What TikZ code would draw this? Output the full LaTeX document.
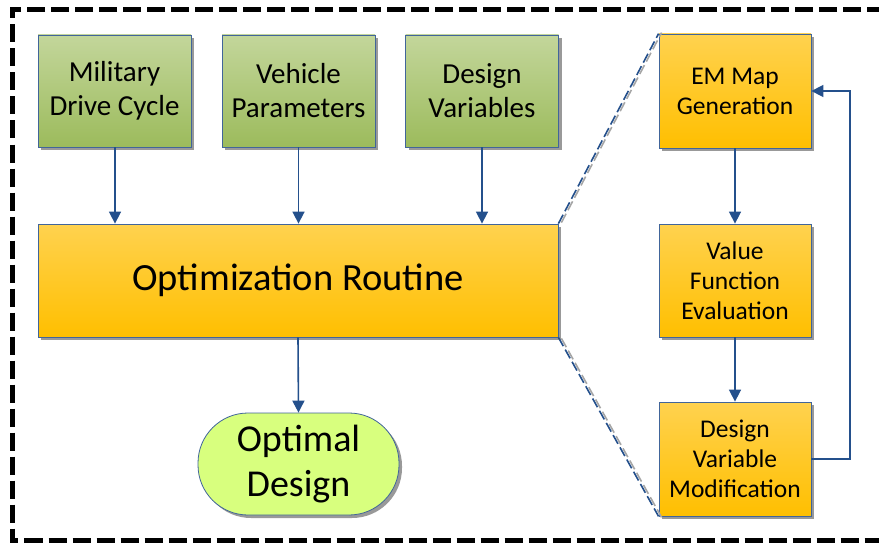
\documentclass[tikz,border=0pt]{standalone}
\usepackage{fontspec}
\setmainfont{Carlito}
\usetikzlibrary{shadows,arrows.meta}
\definecolor{bordblue}{HTML}{41659A}
\definecolor{arrblue}{HTML}{24508C}
\definecolor{gtop}{HTML}{C3D69B}
\definecolor{gbot}{HTML}{9CBB5C}
\definecolor{ytop}{HTML}{FFD24F}
\definecolor{ybot}{HTML}{FFBF00}
\definecolor{odfill}{HTML}{D8FF7E}
\tikzset{
  shad/.style={drop shadow={shadow xshift=3pt,shadow yshift=-3pt,fill=black!40,opacity=1}},
  greenbox/.style={draw=bordblue,line width=0.8pt,top color=gtop,bottom color=gbot,shad,
     minimum width=153pt,minimum height=112pt,align=center,inner sep=0pt,
     font=\fontsize{29}{34}\selectfont},
  yelbox/.style={draw=bordblue,line width=0.8pt,top color=ytop,bottom color=ybot,shad,
     minimum width=152pt,minimum height=113pt,align=center,inner sep=0pt,
     font=\fontsize{25.5}{30}\selectfont},
  arr/.style={draw=arrblue,line width=1.6pt,-{Triangle[length=12pt,width=12pt]}},
  zoomline/.style={draw=arrblue,line width=1.6pt,dash pattern=on 10pt off 4pt},
  zoomshadow/.style={draw=black!35,line width=1.6pt,dash pattern=on 10pt off 4pt}
}
\begin{document}
\begin{tikzpicture}[x=1pt,y=-1pt]
\useasboundingbox (0,0) rectangle (879,543);
\draw[line width=5pt,dash pattern=on 18pt off 6pt] (885,9.5) -- (12,9.5) -- (12,540) -- (885,540);

\node[greenbox] (mdc) at (114.5,91) {Military\\Drive Cycle};
\node[greenbox] (vp) at (298.5,91) {Vehicle\\Parameters};
\node[greenbox] (dv) at (482,91) {Design\\Variables};
\node[yelbox,minimum width=520pt,font=\fontsize{38.5}{44}\selectfont] (opt) at (298,280.5) {Optimization Routine};
\node[draw=bordblue,line width=0.8pt,fill=odfill,shad,rounded corners=50pt,
  minimum width=201pt,minimum height=102pt,align=center,inner sep=0pt,
  font=\fontsize{38}{45}\selectfont] (od) at (298.5,464) {Optimal\\Design};

\node[yelbox,minimum height=114pt] (em) at (735,91) {EM Map\\Generation};
\node[yelbox] (vfe) at (735,280.5) {Value\\Function\\Evaluation};
\node[yelbox,minimum height=114pt] (dvm) at (735,459) {Design\\Variable\\Modification};

\draw[arr] (mdc.south -| 115,0) -- (opt.north -| 115,0);
\draw[arr] (vp.south) -- (vp.south |- opt.north);
\draw[arr] (dv.south) -- (dv.south |- opt.north);
\draw[arr] (opt.south) -- (od.north);
\draw[arr] (em.south) -- (vfe.north);
\draw[arr] (vfe.south) -- (dvm.north);
\coordinate (fbr) at (850,459);
\coordinate (fbt) at (850,91);
\draw[arr] (dvm.east) -- (fbr) -- (fbt) -- (em.east);

\draw[zoomshadow] ([shift={(3pt,1pt)}]opt.north east) -- ([shift={(3pt,1pt)}]em.north west);
\draw[zoomline] (opt.north east) -- (em.north west);
\draw[zoomshadow] ([shift={(3pt,-1pt)}]opt.south east) -- ([shift={(3pt,-1pt)}]dvm.south west);
\draw[zoomline] (opt.south east) -- (dvm.south west);
\end{tikzpicture}
\end{document}
